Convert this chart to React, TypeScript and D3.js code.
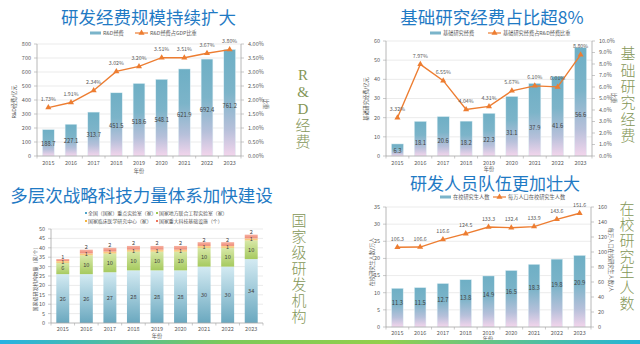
import React from 'react';
import * as d3 from 'd3';

const years = ['2015', '2016', '2017', '2018', '2019', '2020', '2021', '2022', '2023'];
const rdSpend = [188.7, 227.1, 313.7, 451.5, 518.6, 548.1, 621.9, 692.4, 761.2];
const rdGdpShare = [1.73, 1.91, 2.34, 3.02, 3.2, 3.51, 3.51, 3.67, 3.8];
const basicSpend = [6.3, 18.1, 20.6, 18.2, 22.3, 31.1, 37.9, 41.6, 56.6];
const basicShare = [3.32, 7.97, 6.55, 4.04, 4.31, 5.67, 6.1, 6.01, 8.8];
const keyLabs = [26, 26, 27, 28, 28, 28, 30, 30, 34];
const jointLabs = [6, 10, 10, 10, 10, 10, 10, 10, 10];
const clinicalCenters = [1, 1, 1, 1, 1, 1, 1, 1, 1];
const facilities = [1, 2, 2, 2, 2, 2, 2, 2, 2];
const gradStudents = [11.3, 11.5, 12.7, 13.8, 14.9, 16.5, 18.3, 19.8, 20.9];
const gradPer10k = [106.3, 106.6, 116.6, 124.5, 133.3, 132.4, 133.9, 143.6, 151.6];

const stackKeys = ['keyLabs', 'jointLabs', 'clinical', 'facilities'];
const stackLegend = ['全国（国家）重点实验室（家）', '国家地方联合工程实验室（家）', '国家临床医学研究中心（家）', '国家重大科技基础设施（个）'];

const CJK = "'Noto Sans CJK SC', 'Noto Sans', sans-serif";
const TICK = '#595959';
const AXIS = '#a6a6a6';
const GRID = '#e3e3e3';
const ORANGE = '#ed7d31';
const TITLE = '#1f7ac4';
const SIDE = '#849657';

const tri = d3.symbol().type(d3.symbolTriangle).size(16)() as string;

type ComboProps = {
  left: number; right: number; top: number; bottom: number;
  bars: number[]; line: number[];
  leftMax: number; leftTicks: number; rightMax: number; rightTicks: number;
  rightFmt: (v: number) => string; lineFmt: (v: number) => string; barFmt: (v: number) => string;
  labelFrac: number; pad: number;
  legendY: number; legBarX: number; legBarText: string; legLineX: number; legLineText: string;
  leftTitle: { x: number; y: number; t: string };
  rightTitle: { x: number; y: number; t: string };
  xTitle: { x: number; y: number };
  xLabelY: number;
};

function ComboPanel(p: ComboProps) {
  const x = d3.scaleBand<string>().domain(years).range([p.left, p.right]).paddingInner(p.pad).paddingOuter(p.pad / 2);
  const yL = d3.scaleLinear().domain([0, p.leftMax]).range([p.bottom, p.top]);
  const yR = d3.scaleLinear().domain([0, p.rightMax]).range([p.bottom, p.top]);
  const cx = (i: number) => (x(years[i]) as number) + x.bandwidth() / 2;
  const lineGen = d3.line<number>().x((_, i) => cx(i)).y((d) => yR(d));
  const step = (p.right - p.left) / years.length;
  return (
    <g>
      {yL.ticks(p.leftTicks).map((t) => (
        <g key={'gl' + t}>
          {t > 0 && <line x1={p.left} x2={p.right} y1={yL(t)} y2={yL(t)} stroke={GRID} strokeWidth={0.7} />}
          <line x1={p.left - 3} x2={p.left} y1={yL(t)} y2={yL(t)} stroke={AXIS} strokeWidth={0.6} />
          <text x={p.left - 6} y={yL(t)} dy="0.35em" textAnchor="end" fontSize={5.5} fill={TICK}>{t}</text>
        </g>
      ))}
      {yR.ticks(p.rightTicks).map((t) => (
        <g key={'gr' + t}>
          <line x1={p.right} x2={p.right + 3} y1={yR(t)} y2={yR(t)} stroke={AXIS} strokeWidth={0.6} />
          <text x={p.right + 7} y={yR(t)} dy="0.35em" textAnchor="start" fontSize={5.5} fill={TICK}>{p.rightFmt(t)}</text>
        </g>
      ))}
      {p.bars.map((v, i) => (
        <rect key={'b' + i} x={x(years[i])} y={yL(v)} width={x.bandwidth()} height={p.bottom - yL(v)} fill="url(#barGrad)" stroke="#e4f1f6" strokeWidth={0.5} />
      ))}
      <line x1={p.left} x2={p.left} y1={p.top} y2={p.bottom} stroke={AXIS} strokeWidth={0.8} />
      <line x1={p.right} x2={p.right} y1={p.top} y2={p.bottom} stroke={AXIS} strokeWidth={0.8} />
      <line x1={p.left} x2={p.right} y1={p.bottom} y2={p.bottom} stroke={AXIS} strokeWidth={0.8} />
      {d3.range(years.length + 1).map((i) => (
        <line key={'xt' + i} x1={p.left + i * step} x2={p.left + i * step} y1={p.bottom} y2={p.bottom + 2.5} stroke={AXIS} strokeWidth={0.6} />
      ))}
      {years.map((yr, i) => (
        <text key={'xl' + i} x={cx(i)} y={p.xLabelY} dy="0.35em" textAnchor="middle" fontSize={5.5} fill={TICK}>{yr}</text>
      ))}
      {p.bars.map((v, i) => (
        <text key={'bl' + i} x={cx(i)} y={yL(v * p.labelFrac)} dy="0.35em" textAnchor="middle" fontSize={5.8} fill="#3f3f3f">{p.barFmt(v)}</text>
      ))}
      <path d={lineGen(p.line) as string} fill="none" stroke={ORANGE} strokeWidth={1.4} />
      {p.line.map((v, i) => (
        <g key={'pt' + i}>
          <path d={tri} transform={`translate(${cx(i)},${yR(v)})`} fill={ORANGE} />
          <text x={cx(i)} y={yR(v) - 6.5} textAnchor="middle" fontSize={5.3} fill={TICK}>{p.lineFmt(v)}</text>
        </g>
      ))}
      <rect x={p.legBarX} y={p.legendY - 1.5} width={11} height={3} fill="#7ab4ca" />
      <text x={p.legBarX + 13} y={p.legendY} dy="0.35em" fontSize={5.2} fill={TICK}>{p.legBarText}</text>
      <line x1={p.legLineX} x2={p.legLineX + 13} y1={p.legendY} y2={p.legendY} stroke={ORANGE} strokeWidth={1.2} />
      <path d={tri} transform={`translate(${p.legLineX + 6.5},${p.legendY})`} fill={ORANGE} />
      <text x={p.legLineX + 15} y={p.legendY} dy="0.35em" fontSize={5.2} fill={TICK}>{p.legLineText}</text>
      <text transform={`translate(${p.leftTitle.x},${p.leftTitle.y}) rotate(-90)`} textAnchor="middle" dy="0.35em" fontSize={5.2} fill={TICK}>{p.leftTitle.t}</text>
      <text transform={`translate(${p.rightTitle.x},${p.rightTitle.y}) rotate(90)`} textAnchor="middle" dy="0.35em" fontSize={5.2} fill={TICK}>{p.rightTitle.t}</text>
      <text x={p.xTitle.x} y={p.xTitle.y} dy="0.35em" textAnchor="middle" fontSize={5.2} fill={TICK}>年份</text>
    </g>
  );
}

function StackPanel() {
  const left = 51, right = 263, top = 229, bottom = 323;
  const rows = years.map((yr, i) => ({ year: yr, keyLabs: keyLabs[i], jointLabs: jointLabs[i], clinical: clinicalCenters[i], facilities: facilities[i] }));
  const series = d3.stack<any>().keys(stackKeys)(rows);
  const x = d3.scaleBand<string>().domain(years).range([left, right]).paddingInner(0.45).paddingOuter(0.225);
  const y = d3.scaleLinear().domain([0, 50]).range([bottom, top]);
  const fills = ['url(#blueGrad)', 'url(#greenGrad)', 'url(#orangeGrad)', 'url(#redGrad)'];
  const legColors = ['#4ea3c9', '#9cc850', '#f5b43e', '#ef735c'];
  const step = (right - left) / years.length;
  return (
    <g>
      {y.ticks(10).map((t) => (
        <g key={'g' + t}>
          {t > 0 && <line x1={left} x2={right} y1={y(t)} y2={y(t)} stroke={GRID} strokeWidth={0.7} />}
          <line x1={left - 3} x2={left} y1={y(t)} y2={y(t)} stroke={AXIS} strokeWidth={0.6} />
          <text x={left - 6} y={y(t)} dy="0.35em" textAnchor="end" fontSize={5.5} fill={TICK}>{t}</text>
        </g>
      ))}
      {series.map((s, si) => s.map((d, i) => (
        <rect key={si + '-' + i} x={x(years[i])} y={y(d[1])} width={x.bandwidth()} height={y(d[0]) - y(d[1])} fill={fills[si]} />
      )))}
      <line x1={left} x2={left} y1={top} y2={bottom} stroke={AXIS} strokeWidth={0.8} />
      <line x1={left} x2={right} y1={bottom} y2={bottom} stroke={AXIS} strokeWidth={0.8} />
      {d3.range(years.length + 1).map((i) => (
        <line key={'xt' + i} x1={left + i * step} x2={left + i * step} y1={bottom} y2={bottom + 2.5} stroke={AXIS} strokeWidth={0.6} />
      ))}
      {years.map((yr, i) => (
        <text key={'xl' + i} x={(x(yr) as number) + x.bandwidth() / 2} y={329} dy="0.35em" textAnchor="middle" fontSize={5.5} fill={TICK}>{yr}</text>
      ))}
      {series.map((s, si) => s.map((d, i) => {
        const cxv = (x(years[i]) as number) + x.bandwidth() / 2;
        const ly = si === 3 ? y(d[1]) - 2.5 : (y(d[0]) + y(d[1])) / 2;
        return (
          <text key={'l' + si + '-' + i} x={cxv} y={ly} dy="0.35em" textAnchor="middle" fontSize={5.6} fill="#3f3f3f">{d[1] - d[0]}</text>
        );
      }))}
      {stackLegend.map((t, i) => (
        <g key={'lg' + i}>
          <rect x={(i % 2 === 0 ? 86 : 157) - 1} y={(i < 2 ? 213 : 221) - 1} width={2} height={2} fill={legColors[i]} />
          <text x={(i % 2 === 0 ? 86 : 157) + 2} y={i < 2 ? 213 : 221} dy="0.35em" fontSize={4.9} fill={TICK}>{t}</text>
        </g>
      ))}
      <text transform="translate(35,278) rotate(-90)" textAnchor="middle" dy="0.35em" fontSize={5} fill={TICK}>国家级研发机构数量（家/个）</text>
      <text x={157} y={336} dy="0.35em" textAnchor="middle" fontSize={5.2} fill={TICK}>年份</text>
    </g>
  );
}

function SideText({ x, y0, gap, chars }: { x: number; y0: number; gap: number; chars: string[] }) {
  return (
    <g>
      {chars.map((c, i) => (
        <text key={i} x={x} y={y0 + i * gap} dy="0.35em" textAnchor="middle" fontSize={15} fontWeight={300} fill={SIDE} fontFamily={"'Liberation Serif', 'Noto Sans CJK SC', serif"}>{c}</text>
      ))}
    </g>
  );
}

export default function App() {
  return (
    <svg width={640} height={344} style={{ position: 'absolute', left: 0, top: 0 }} fontFamily={CJK}>
      <defs>
        <linearGradient id="barGrad" x1="0" y1="0" x2="0" y2="1">
          <stop offset="0" stopColor="#6eafc5" />
          <stop offset="0.4" stopColor="#7cb4c9" />
          <stop offset="0.75" stopColor="#b6c0da" />
          <stop offset="1" stopColor="#f3d5ec" />
        </linearGradient>
        <linearGradient id="blueGrad" x1="0" y1="0" x2="0" y2="1">
          <stop offset="0" stopColor="#d3eaf2" />
          <stop offset="1" stopColor="#6aa8bf" />
        </linearGradient>
        <linearGradient id="greenGrad" x1="0" y1="0" x2="0" y2="1">
          <stop offset="0" stopColor="#d8e8a8" />
          <stop offset="1" stopColor="#a6ca5f" />
        </linearGradient>
        <linearGradient id="orangeGrad" x1="0" y1="0" x2="0" y2="1">
          <stop offset="0" stopColor="#fbd99c" />
          <stop offset="1" stopColor="#f6bd63" />
        </linearGradient>
        <linearGradient id="redGrad" x1="0" y1="0" x2="0" y2="1">
          <stop offset="0" stopColor="#f6b1a2" />
          <stop offset="1" stopColor="#ef8b76" />
        </linearGradient>
        <linearGradient id="stripGrad" x1="0" y1="0" x2="1" y2="0">
          <stop offset="0" stopColor="#27b2e3" />
          <stop offset="0.35" stopColor="#7cc95a" />
          <stop offset="0.6" stopColor="#93cf4c" />
          <stop offset="1" stopColor="#25b4d8" />
        </linearGradient>
      </defs>
      <rect width={640} height={344} fill="#ffffff" />

      <ComboPanel
        left={37} right={241} top={44} bottom={156}
        bars={rdSpend} line={rdGdpShare}
        leftMax={800} leftTicks={8} rightMax={4} rightTicks={8}
        rightFmt={(v) => v.toFixed(2) + '%'} lineFmt={(v) => v.toFixed(2) + '%'} barFmt={(v) => v.toFixed(1)}
        labelFrac={0.47} pad={0.48}
        legendY={33} legBarX={90} legBarText="R&D经费" legLineX={135} legLineText="R&D经费占GDP比重"
        leftTitle={{ x: 14, y: 102, t: 'R&D经费/亿元' }}
        rightTitle={{ x: 266, y: 104, t: '比重' }}
        xTitle={{ x: 139, y: 171 }} xLabelY={163}
      />
      <ComboPanel
        left={386} right={592} top={41} bottom={156}
        bars={basicSpend} line={basicShare}
        leftMax={60} leftTicks={6} rightMax={10} rightTicks={10}
        rightFmt={(v) => v.toFixed(1) + '%'} lineFmt={(v) => v.toFixed(2) + '%'} barFmt={(v) => v.toFixed(1)}
        labelFrac={0.38} pad={0.47}
        legendY={33} legBarX={430} legBarText="基础研究经费" legLineX={488} legLineText="基础研究经费占R&D经费比重"
        leftTitle={{ x: 366, y: 99, t: '基础研究经费/亿元' }}
        rightTitle={{ x: 614, y: 98, t: '比重' }}
        xTitle={{ x: 489, y: 169.5 }} xLabelY={163}
      />
      <ComboPanel
        left={386} right={591} top={207} bottom={327}
        bars={gradStudents} line={gradPer10k}
        leftMax={35} leftTicks={7} rightMax={160} rightTicks={8}
        rightFmt={(v) => String(v)} lineFmt={(v) => v.toFixed(1)} barFmt={(v) => v.toFixed(1)}
        labelFrac={0.62} pad={0.49}
        legendY={197} legBarX={440} legBarText="在校研究生人数" legLineX={493} legLineText="每万人口在校研究生人数"
        leftTitle={{ x: 372, y: 262, t: '在校研究生人数/万人' }}
        rightTitle={{ x: 611, y: 260, t: '每万人口在校研究生人数/人' }}
        xTitle={{ x: 488, y: 339 }} xLabelY={333}
      />
      <StackPanel />

      <text x={148.5} y={24} textAnchor="middle" fontSize={17.5} fill={TITLE}>研发经费规模持续扩大</text>
      <text x={492} y={24} textAnchor="middle" fontSize={17.5} fill={TITLE}>基础研究经费占比超8%</text>
      <text x={141.5} y={202} textAnchor="middle" fontSize={17.5} fill={TITLE}>多层次战略科技力量体系加快建设</text>
      <text x={495} y={190} textAnchor="middle" fontSize={17} fill={TITLE}>研发人员队伍更加壮大</text>

      <SideText x={303} y0={75} gap={16.8} chars={['R', '&', 'D', '经', '费']} />
      <SideText x={628} y0={54} gap={16.4} chars={['基', '础', '研', '究', '经', '费']} />
      <SideText x={299} y0={221} gap={16} chars={['国', '家', '级', '研', '发', '机', '构']} />
      <SideText x={627} y0={209} gap={15.8} chars={['在', '校', '研', '究', '生', '人', '数']} />

      <rect x={0} y={340} width={640} height={4} fill="url(#stripGrad)" />
    </svg>
  );
}
